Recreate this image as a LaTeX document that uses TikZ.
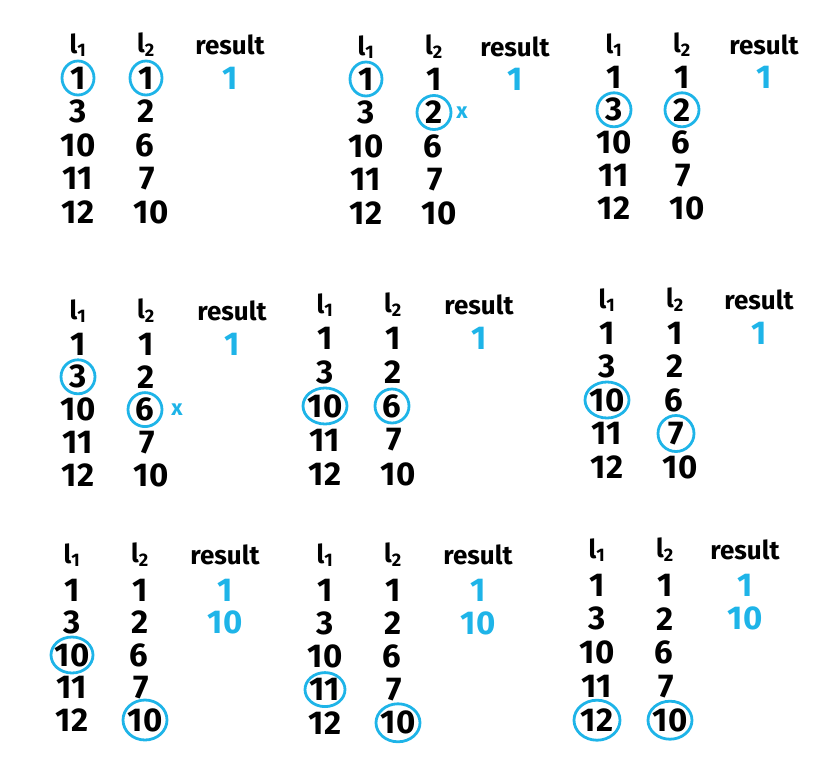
\documentclass[tikz,border=0pt]{standalone}
\usepackage{fontspec}
\setmainfont{Fira Sans}
\definecolor{hlblue}{RGB}{30,180,232}
\tikzset{
  num/.style={font=\fontsize{33}{33}\selectfont\bfseries, text=black, inner sep=0pt},
  hd/.style={font=\fontsize{26}{26}\selectfont\bfseries, text=black, inner sep=0pt},
  res/.style={num, text=hlblue},
  xmk/.style={font=\fontsize{22}{22}\selectfont\bfseries, text=hlblue, inner sep=0pt},
  bluering/.style={draw=hlblue, line width=2.8pt},
}
% #1 prefix, #2 l1 column x, #3 header y, #4 first row y, #5 row step, #6 result column x
\newcommand\tpanel[6]{%
  \node[hd] (#1h1) at (#2,#3) {l\textsubscript{1}};
  \node[hd] (#1h2) at ({#2+68},#3) {l\textsubscript{2}};
  \node[hd] (#1h3) at (#6,#3) {result};
  \node[num] (#1a1) at (#2,{#4}) {1};
  \node[num] (#1a2) at (#2,{#4+#5}) {3};
  \node[num] (#1a3) at (#2,{#4+2*#5}) {10};
  \node[num] (#1a4) at (#2,{#4+3*#5}) {11};
  \node[num] (#1a5) at (#2,{#4+4*#5}) {12};
  \node[num] (#1b1) at ({#2+68},{#4}) {1};
  \node[num] (#1b2) at ({#2+68},{#4+#5}) {2};
  \node[num] (#1b3) at ({#2+67},{#4+2*#5}) {6};
  \node[num] (#1b4) at ({#2+69},{#4+3*#5}) {7};
  \node[num] (#1b5) at ({#2+73},{#4+4*#5}) {10};
}
\begin{document}
\begin{tikzpicture}[x=1pt,y=-1pt]
\useasboundingbox (0,0) rectangle (838,777);
% row 1
\tpanel{pA}{78}{45}{78}{33.5}{230}
\tpanel{pB}{366}{47}{79}{33.5}{515}
\tpanel{pC}{614}{45}{77}{32.8}{764}
% row 2
\tpanel{pD}{78}{311}{344}{32.8}{232}
\tpanel{pE}{325}{305}{338}{34}{479}
\tpanel{pF}{607}{300}{333}{33.5}{759}
% row 3
\tpanel{pG}{72}{555}{590}{32.5}{225}
\tpanel{pH}{325}{555}{590}{33.2}{478}
\tpanel{pI}{597}{550}{585}{33.8}{745}
% results
\node[res] (pAr1) at (pAh3 |- pAa1) {1};
\node[res] (pBr1) at (pBh3 |- pBa1) {1};
\node[res] (pCr1) at (pCh3 |- pCa1) {1};
\node[res] (pDr1) at (pDh3 |- pDa1) {1};
\node[res] (pEr1) at (pEh3 |- pEa1) {1};
\node[res] (pFr1) at (pFh3 |- pFa1) {1};
\node[res] (pGr1) at (pGh3 |- pGa1) {1};
\node[res] (pGr2) at (pGh3 |- pGa2) {10};
\node[res] (pHr1) at (pHh3 |- pHa1) {1};
\node[res] (pHr2) at (pHh3 |- pHa2) {10};
\node[res] (pIr1) at (pIh3 |- pIa1) {1};
\node[res] (pIr2) at (pIh3 |- pIa2) {10};
% crosses
\node[xmk] (pBx) at ([xshift=28pt]pBb2.center) {x};
\node[xmk] (pDx) at ([xshift=32pt]pDb3.center) {x};
% rings
\draw[bluering] (pAa1) ellipse [x radius=16pt, y radius=17pt];
\draw[bluering] (pAb1) ellipse [x radius=16pt, y radius=17pt];
\draw[bluering] (pBa1) ellipse [x radius=16pt, y radius=17pt];
\draw[bluering] (pBb2) ellipse [x radius=17pt, y radius=17pt];
\draw[bluering] (pCa2) ellipse [x radius=17pt, y radius=17pt];
\draw[bluering] (pCb2) ellipse [x radius=17pt, y radius=17pt];
\draw[bluering] (pDa2) ellipse [x radius=17pt, y radius=17pt];
\draw[bluering] (pDb3) ellipse [x radius=17pt, y radius=17pt];
\draw[bluering] (pEa3) ellipse [x radius=22pt, y radius=18pt];
\draw[bluering] (pEb3) ellipse [x radius=17pt, y radius=17pt];
\draw[bluering] (pFa3) ellipse [x radius=22pt, y radius=18pt];
\draw[bluering] (pFb4) ellipse [x radius=18pt, y radius=18pt];
\draw[bluering] (pGa3) ellipse [x radius=21pt, y radius=18pt];
\draw[bluering] (pGb5) ellipse [x radius=22pt, y radius=20pt];
\draw[bluering] (pHa4) ellipse [x radius=20pt, y radius=17pt];
\draw[bluering] (pHb5) ellipse [x radius=22pt, y radius=19pt];
\draw[bluering] (pIa5) ellipse [x radius=23pt, y radius=20pt];
\draw[bluering] (pIb5) ellipse [x radius=22pt, y radius=19pt];
\end{tikzpicture}
\end{document}
